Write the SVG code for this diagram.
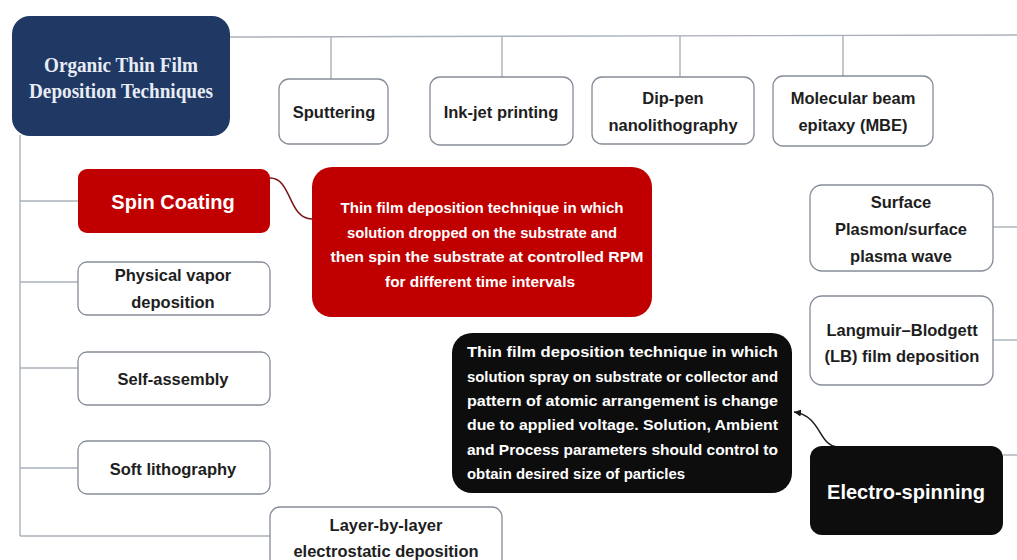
<svg xmlns="http://www.w3.org/2000/svg" width="1017" height="560" viewBox="0 0 1017 560">
<defs>
<style>
.bx{fill:#ffffff;stroke:#858c98;stroke-width:1.3}
.ln{fill:none;stroke:#aab0ba;stroke-width:1.4}
.t{font-family:"Liberation Sans",Arial,sans-serif;font-weight:bold;font-size:16.5px;fill:#1e1e1e;text-anchor:middle}
.tw{font-family:"Liberation Sans",Arial,sans-serif;font-weight:bold;fill:#ffffff;text-anchor:middle}
.td{font-family:"Liberation Sans",Arial,sans-serif;font-weight:bold;font-size:15px;fill:#ffffff}
.title{font-family:"Liberation Serif","Times New Roman",serif;font-weight:bold;font-size:20px;fill:#e8ecf4;text-anchor:middle}
</style>
<marker id="ah" markerWidth="8" markerHeight="8" refX="7" refY="4" orient="auto" markerUnits="userSpaceOnUse">
<path d="M0,0.5 L7,4 L0,7.5 Z" fill="#1a1a1a"/>
</marker>
</defs>
<rect width="1017" height="560" fill="#ffffff"/>

<g id="connectors">
<path class="ln" d="M230,37 L1017,35"/>
<path class="ln" d="M331,37 V79"/>
<path class="ln" d="M502,37 V77"/>
<path class="ln" d="M680,36 V77"/>
<path class="ln" d="M843,36 V76"/>
<path class="ln" d="M20,135 V536"/>
<path class="ln" d="M20,201 H78"/>
<path class="ln" d="M20,282 H78"/>
<path class="ln" d="M20,368 H78"/>
<path class="ln" d="M20,468 H78"/>
<path class="ln" d="M20,536 H270"/>
<path class="ln" d="M993,227 H1017"/>
<path class="ln" d="M993,340 H1017"/>
<path class="ln" d="M1003,455 H1017"/>
<path d="M270,178 C292,178 288,219 312,219" fill="none" stroke="#7a1416" stroke-width="1.5"/>
<path d="M838,447 C818,446 822,416 794,412" fill="none" stroke="#1a1a1a" stroke-width="1.5" marker-end="url(#ah)"/>
</g>

<g id="root">
<rect x="12" y="16" width="218" height="120" rx="18" fill="#1f3864"/>
<text class="title" x="121" y="72" textLength="154" lengthAdjust="spacingAndGlyphs">Organic Thin Film</text>
<text class="title" x="121" y="98" textLength="184" lengthAdjust="spacingAndGlyphs">Deposition Techniques</text>
</g>

<g id="sputtering">
<rect class="bx" x="279" y="79" width="109" height="65" rx="10"/>
<text class="t" x="334" y="118">Sputtering</text>
</g>
<g id="inkjet">
<rect class="bx" x="430" y="77" width="143" height="68" rx="10"/>
<text class="t" x="501" y="118">Ink-jet printing</text>
</g>
<g id="dippen">
<rect class="bx" x="592" y="77" width="162" height="67" rx="10"/>
<text class="t" x="673" y="104">Dip-pen</text>
<text class="t" x="673" y="131">nanolithography</text>
</g>
<g id="mbe">
<rect class="bx" x="773" y="76" width="160" height="70" rx="10"/>
<text class="t" x="853" y="104">Molecular beam</text>
<text class="t" x="853" y="131">epitaxy (MBE)</text>
</g>

<g id="spincoating">
<rect x="78" y="169" width="192" height="64" rx="9" fill="#c00000"/>
<text class="tw" x="173" y="209" font-size="20">Spin Coating</text>
</g>
<g id="spindesc">
<rect x="312" y="167" width="340" height="150" rx="20" fill="#c00000"/>
<text class="tw" x="482" y="213" font-size="15" textLength="283" lengthAdjust="spacingAndGlyphs">Thin film deposition technique in which</text>
<text class="tw" x="482" y="238" font-size="15" textLength="270" lengthAdjust="spacingAndGlyphs">solution dropped on the substrate and</text>
<text class="tw" x="487" y="262" font-size="15" textLength="313" lengthAdjust="spacingAndGlyphs">then spin the substrate at controlled RPM</text>
<text class="tw" x="480" y="287" font-size="15" textLength="190" lengthAdjust="spacingAndGlyphs">for different time intervals</text>
</g>

<g id="pvd">
<rect class="bx" x="78" y="262" width="192" height="53" rx="9"/>
<text class="t" x="173" y="281">Physical vapor</text>
<text class="t" x="173" y="308">deposition</text>
</g>
<g id="selfassembly">
<rect class="bx" x="78" y="352" width="192" height="53" rx="9"/>
<text class="t" x="173" y="385">Self-assembly</text>
</g>
<g id="softlitho">
<rect class="bx" x="78" y="441" width="192" height="53" rx="9"/>
<text class="t" x="173" y="475">Soft lithography</text>
</g>
<g id="lbl">
<rect class="bx" x="270" y="507" width="232" height="70" rx="10"/>
<text class="t" x="386" y="531">Layer-by-layer</text>
<text class="t" x="386" y="557">electrostatic deposition</text>
</g>

<g id="surfaceplasmon">
<rect class="bx" x="810" y="185" width="183" height="86" rx="12"/>
<text class="t" x="901" y="208">Surface</text>
<text class="t" x="901" y="235">Plasmon/surface</text>
<text class="t" x="901" y="262">plasma wave</text>
</g>
<g id="langmuir">
<rect class="bx" x="810" y="296" width="183" height="89" rx="12"/>
<text class="t" x="902" y="336">Langmuir–Blodgett</text>
<text class="t" x="902" y="362">(LB) film deposition</text>
</g>

<g id="electrodesc">
<rect x="452" y="333" width="340" height="160" rx="20" fill="#0d0d0d"/>
<text class="td" x="467" y="357" textLength="311" lengthAdjust="spacingAndGlyphs">Thin film deposition technique in which</text>
<text class="td" x="467" y="382" textLength="311" lengthAdjust="spacingAndGlyphs">solution spray on substrate or collector and</text>
<text class="td" x="467" y="406" textLength="311" lengthAdjust="spacingAndGlyphs">pattern of atomic arrangement is change</text>
<text class="td" x="467" y="430" textLength="311" lengthAdjust="spacingAndGlyphs">due to applied voltage. Solution, Ambient</text>
<text class="td" x="467" y="455" textLength="311" lengthAdjust="spacingAndGlyphs">and Process parameters should control to</text>
<text class="td" x="467" y="479" textLength="218" lengthAdjust="spacingAndGlyphs">obtain desired size of particles</text>
</g>

<g id="electrospinning">
<rect x="810" y="446" width="193" height="89" rx="12" fill="#0d0d0d"/>
<text class="tw" x="906" y="499" font-size="20">Electro-spinning</text>
</g>
</svg>
